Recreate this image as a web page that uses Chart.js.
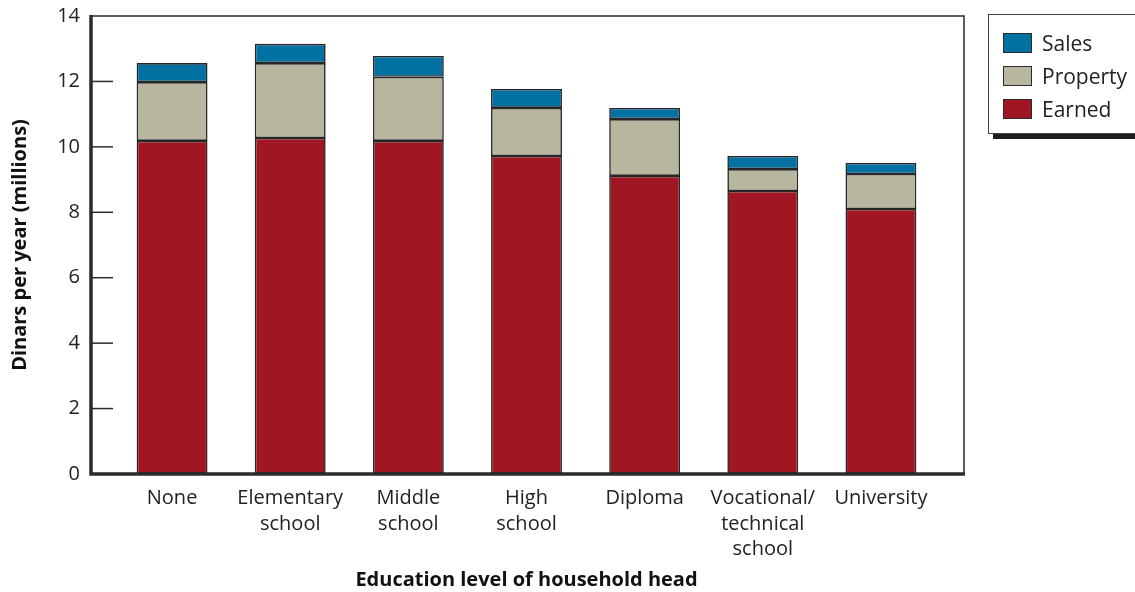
<!DOCTYPE html>
<html>
<head>
<meta charset="utf-8">
<script src="https://cdn.jsdelivr.net/npm/chart.js@4/dist/chart.umd.min.js"></script>
<style>
	html, body { margin: 0; padding: 0; background: #fff; }
	#wrap { position: relative; width: 1135px; height: 592px; overflow: hidden; }
	#legend {
		position: absolute; left: 988px; top: 14px; width: 170px; height: 118px;
		border: 1px solid #444; background: #fff; box-shadow: 5px 5px 0 #1e1e1e;
		font-family: 'Open Sans', sans-serif; font-size: 21px; color: #222;
	}
	.item { position: absolute; left: 14px; height: 22px; display: flex; align-items: center; }
	.swatch { width: 29px; height: 20px; border: 1px solid #2a2a2a; margin-right: 10px; box-sizing: border-box; }
</style>
</head>
<body>
<div id="wrap">
	<canvas id="chart" width="1135" height="592"></canvas>
	<div id="legend"></div>
</div>
<script>
const categories = [
	"None",
	["Elementary", "school"],
	["Middle", "school"],
	["High", "school"],
	"Diploma",
	["Vocational/", "technical", "school"],
	"University"
];
const earned = [10.18, 10.27, 10.18, 9.72, 9.11, 8.65, 8.10];
const property = [1.80, 2.29, 1.96, 1.47, 1.74, 0.67, 1.07];
const sales = [0.58, 0.59, 0.64, 0.58, 0.34, 0.40, 0.34];
const yTicks = [0, 2, 4, 6, 8, 10, 12, 14];

const colors = {
	sales: "#0071a1",
	property: "#b8b69e",
	earned: "#a01622"
};

const makeSet = (label, data, color) => ({
	label,
	data,
	backgroundColor: color,
	borderColor: "#262626",
	borderWidth: 1.6,
	borderSkipped: false,
	categoryPercentage: 1,
	barPercentage: 0.6
});

// frame round the plot plus the short inner ticks on the y axis
const framePlugin = {
	id: "frame",
	afterDraw(chart) {
		const {ctx, chartArea} = chart;
		const y = chart.scales.y;
		const left = chartArea.left - 22;
		const right = chartArea.right + 24;
		const top = y.getPixelForValue(14);
		const bottom = y.getPixelForValue(0);
		ctx.save();
		ctx.strokeStyle = "#2b2b2b";
		ctx.lineWidth = 1.5;
		ctx.beginPath();
		ctx.moveTo(left, top);
		ctx.lineTo(right, top);
		ctx.lineTo(right, bottom);
		ctx.stroke();
		y.ticks.forEach((t) => {
			if (t.value === 0 || t.value === 14) return;
			const py = y.getPixelForValue(t.value);
			ctx.beginPath();
			ctx.moveTo(left, py);
			ctx.lineTo(chartArea.left, py);
			ctx.stroke();
		});
		ctx.lineWidth = 3.5;
		ctx.beginPath();
		ctx.moveTo(left, top - 1);
		ctx.lineTo(left, bottom);
		ctx.lineTo(right + 1, bottom);
		ctx.stroke();
		ctx.restore();
	}
};

const chart = new Chart(document.getElementById("chart"), {
	type: "bar",
	data: {
		labels: categories,
		datasets: [
			makeSet("Earned", earned, colors.earned),
			makeSet("Property", property, colors.property),
			makeSet("Sales", sales, colors.sales)
		]
	},
	options: {
		responsive: false,
		animation: false,
		layout: {padding: {top: 16, right: 195, bottom: 0, left: 0}},
		plugins: {legend: {display: false}, tooltip: {enabled: false}},
		scales: {
			x: {
				stacked: true,
				grid: {display: false},
				border: {display: false},
				ticks: {
					color: "#222",
					padding: 4,
					maxRotation: 0,
					autoSkip: false,
					font: {family: "'Open Sans', sans-serif", size: 20, lineHeight: 1.27}
				},
				title: {
					display: true,
					text: "Education level of household head",
					color: "#111",
					padding: {top: 0, bottom: 0},
					font: {family: "'Open Sans', sans-serif", size: 20, weight: "bold"}
				},
				afterFit: (scale) => { scale.height = 118; }
			},
			y: {
				stacked: true,
				min: 0,
				max: 14,
				afterBuildTicks: (scale) => { scale.ticks = yTicks.map((v) => ({value: v})); },
				// invisible tick marks only push the labels out to the left
				grid: {display: true, drawOnChartArea: false, drawTicks: true, tickLength: 33, tickColor: "rgba(0,0,0,0)"},
				border: {display: false},
				ticks: {
					color: "#222",
					padding: 0,
					font: {family: "'Open Sans', sans-serif", size: 20}
				},
				title: {
					display: true,
					text: "Dinars per year (millions)",
					color: "#111",
					padding: {top: 8, bottom: 0},
					font: {family: "'Open Sans', sans-serif", size: 20, weight: "bold"}
				},
				afterFit: (scale) => { scale.width = 113; }
			}
		}
	},
	plugins: [framePlugin]
});

// legend: top to bottom in reverse stacking order
const legend = document.getElementById("legend");
chart.data.datasets.slice().reverse().forEach((ds, i) => {
	const item = document.createElement("div");
	item.className = "item";
	item.style.top = (17 + i * 33) + "px";
	item.innerHTML = `<span class="swatch" style="background:${ds.backgroundColor}"></span><span>${ds.label}</span>`;
	legend.appendChild(item);
});
</script>
</body>
</html>
